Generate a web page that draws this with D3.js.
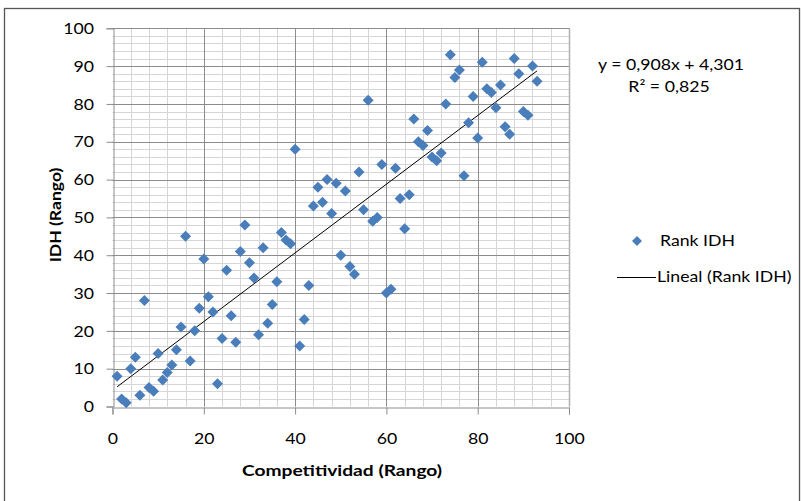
<!DOCTYPE html>
<html>
<head>
<meta charset="utf-8">
<script src="https://cdn.jsdelivr.net/npm/d3@7"></script>
<style>
  body { margin: 0; background: #fff; }
  text { font-family: Lato, "Open Sans", sans-serif; fill: #000; }
</style>
</head>
<body>
<svg id="chart" width="803" height="501"></svg>
<script>
// Competitividad rank (x) vs IDH rank (y)
const competitividad = d3.range(1, 94);
const rankIDH = [8, 2, 1, 10, 13, 3, 28, 5, 4, 14, 7, 9, 11, 15, 21, 45, 12, 20, 26, 39,
  29, 25, 6, 18, 36, 24, 17, 41, 48, 38, 34, 19, 42, 22, 27, 33, 46, 44, 43, 68,
  16, 23, 32, 53, 58, 54, 60, 51, 59, 40, 57, 37, 35, 62, 52, 81, 49, 50, 64, 30,
  31, 63, 55, 47, 56, 76, 70, 69, 73, 66, 65, 67, 80, 93, 87, 89, 61, 75, 82, 71,
  91, 84, 83, 79, 85, 74, 72, 92, 88, 78, 77, 90, 86];
const xTicks = [0, 20, 40, 60, 80, 100];
const yTicks = [0, 10, 20, 30, 40, 50, 60, 70, 80, 90, 100];
const slope = 0.908, intercept = 4.301;
const equationLabel = "y = 0,908x + 4,301";
const r2Label = "R² = 0,825";

const svg = d3.select("#chart");
const plotLeft = 112.5, plotRight = 569, plotTop = 28.3, plotBottom = 406.5;
const stretch = 1.22; // text in the original is wide, so widen glyphs a bit

const x = d3.scaleLinear().domain([0, 100]).range([plotLeft, plotRight]);
const y = d3.scaleLinear().domain([0, 100]).range([plotBottom, plotTop]);
const px = v => Math.round(v) + 0.5;

// outer frame
svg.append("rect")
    .attr("x", 4.5).attr("y", 8.5)
    .attr("width", 795).attr("height", 500)
    .attr("fill", "none").attr("stroke", "#555").attr("stroke-width", 1.3);

const grid = svg.append("g");

// minor gridlines
grid.selectAll("line.vminor")
    .data(d3.range(4, 100, 4))
    .join("line")
    .attr("class", "vminor")
    .attr("x1", d => px(x(d))).attr("x2", d => px(x(d)))
    .attr("y1", plotTop).attr("y2", plotBottom)
    .attr("stroke", "#d6d6d6");

grid.selectAll("line.hminor")
    .data(d3.range(2, 100, 2))
    .join("line")
    .attr("class", "hminor")
    .attr("y1", d => px(y(d))).attr("y2", d => px(y(d)))
    .attr("x1", plotLeft).attr("x2", plotRight)
    .attr("stroke", "#d6d6d6");

// major gridlines
grid.selectAll("line.vmajor")
    .data(xTicks.slice(1))
    .join("line")
    .attr("class", "vmajor")
    .attr("x1", d => px(x(d))).attr("x2", d => px(x(d)))
    .attr("y1", plotTop).attr("y2", plotBottom)
    .attr("stroke", "#8c8c8c");

grid.selectAll("line.hmajor")
    .data(yTicks.slice(1))
    .join("line")
    .attr("class", "hmajor")
    .attr("y1", d => px(y(d))).attr("y2", d => px(y(d)))
    .attr("x1", plotLeft).attr("x2", plotRight)
    .attr("stroke", "#8c8c8c");

// axes
const xAxis = svg.append("g")
    .attr("transform", `translate(0,${px(plotBottom)})`)
    .call(d3.axisBottom(x).tickValues(xTicks).tickSize(7).tickPadding(19));
const yAxis = svg.append("g")
    .attr("transform", `translate(${px(plotLeft)},0)`)
    .call(d3.axisLeft(y).tickValues(yTicks).tickSize(7).tickPadding(9));

[xAxis, yAxis].forEach(a => {
    a.select(".domain").attr("stroke", "#8c8c8c");
    a.selectAll(".tick line").attr("stroke", "#8c8c8c");
    a.selectAll(".tick text")
        .style("font-family", "Lato, sans-serif")
        .style("font-size", "14.5px")
        .attr("fill", "#000")
        .attr("transform", `scale(${stretch},1)`);
});
yAxis.selectAll(".tick text").attr("dy", "0.36em");

// trend line
const xs = d3.extent(competitividad);
svg.append("line")
    .attr("x1", x(xs[0])).attr("y1", y(slope * xs[0] + intercept))
    .attr("x2", x(xs[1])).attr("y2", y(slope * xs[1] + intercept))
    .attr("stroke", "#000").attr("stroke-width", 1);

// points
const diamond = s => `M0,${-s}L${s},0L0,${s}L${-s},0Z`;
svg.append("g")
    .selectAll("path")
    .data(competitividad.map((c, i) => [c, rankIDH[i]]))
    .join("path")
    .attr("transform", d => `translate(${x(d[0])},${y(d[1])})`)
    .attr("d", diamond(5.5))
    .attr("fill", "#4a7ebb");

// plot area right border
svg.append("line")
    .attr("x1", plotRight + 0.5).attr("x2", plotRight + 0.5)
    .attr("y1", plotTop).attr("y2", plotBottom)
    .attr("stroke", "#b0b0b0").attr("stroke-width", 1.5);

function label(x0, y0, txt, opts = {}) {
    return svg.append("text")
        .attr("transform", `translate(${x0},${y0})${opts.rotate ? " rotate(-90)" : ""} scale(${opts.k || stretch},1)`)
        .attr("text-anchor", opts.anchor || "start")
        .style("font-size", (opts.size || 14.5) + "px")
        .style("font-weight", opts.bold ? "bold" : null)
        .text(txt);
}

// axis titles
label(342, 476, "Competitividad (Rango)", { anchor: "middle", bold: true, size: 16, k: 1.2 });
label(61, 215, "IDH (Rango)", { anchor: "middle", bold: true, size: 16, rotate: true, k: 1.1 });

// equation
label(671, 70, equationLabel, { anchor: "middle" });
label(669, 92, r2Label, { anchor: "middle" });

// legend
svg.append("path")
    .attr("transform", "translate(637,241)")
    .attr("d", diamond(5))
    .attr("fill", "#4a7ebb");
label(660, 246, "Rank IDH");
svg.append("line")
    .attr("x1", 617).attr("x2", 656)
    .attr("y1", 277.5).attr("y2", 277.5)
    .attr("stroke", "#000");
label(657, 282, "Lineal (Rank IDH)");
</script>
</body>
</html>
